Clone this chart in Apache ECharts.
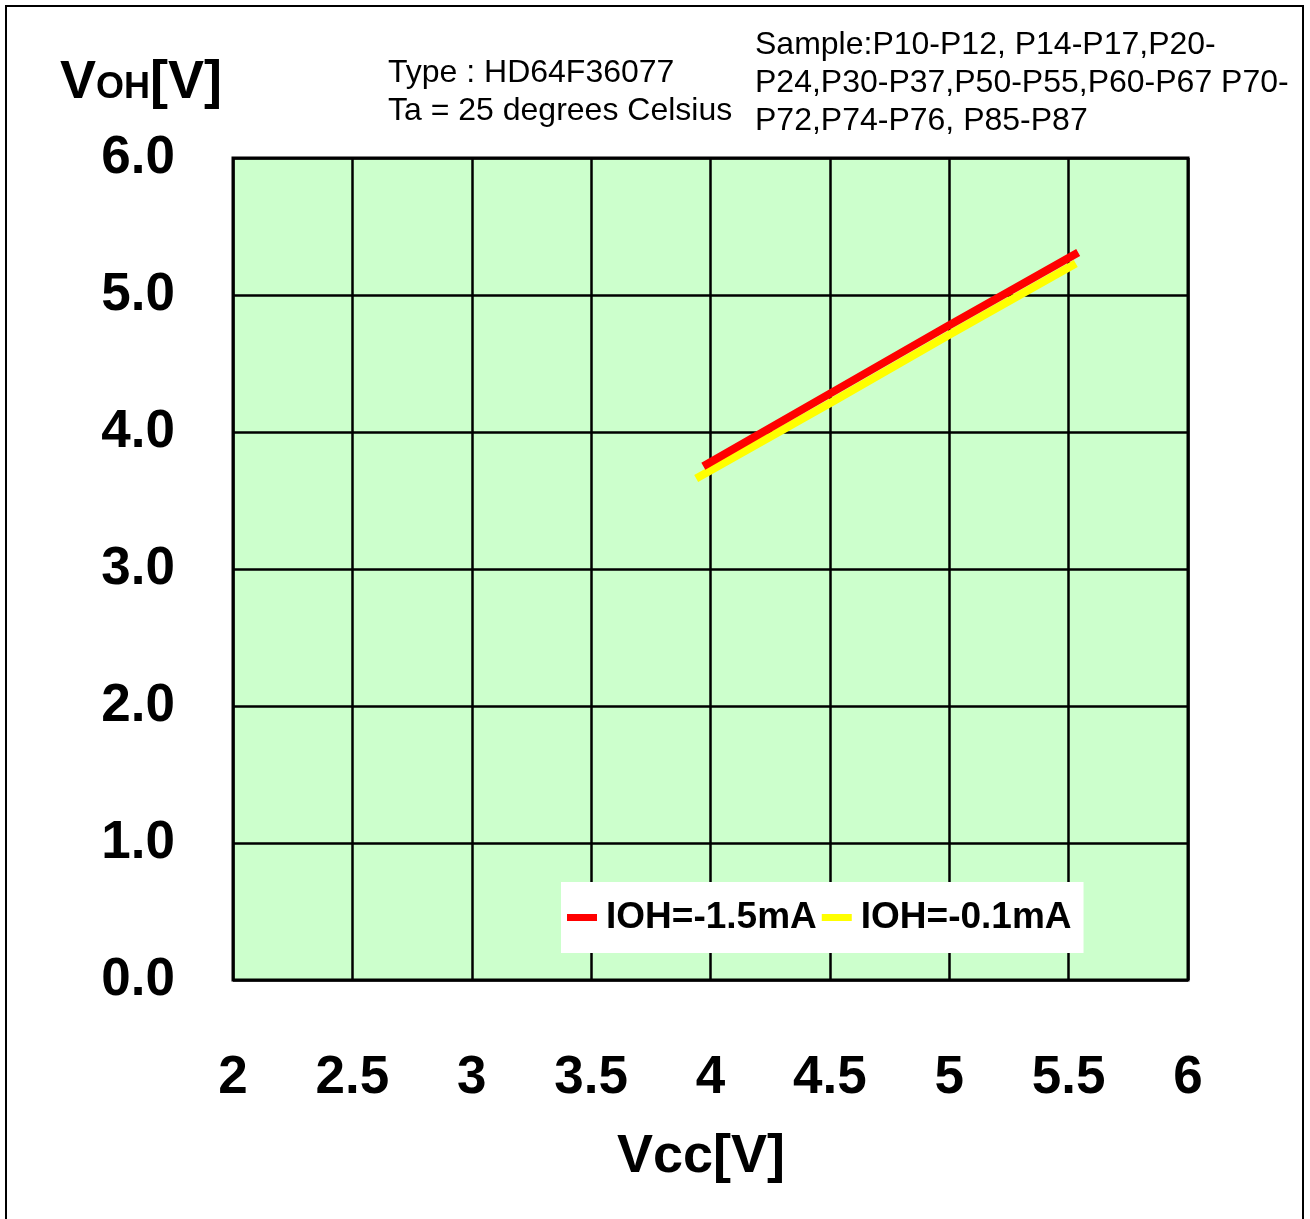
<!DOCTYPE html>
<html>
<head>
<meta charset="utf-8">
<script src="https://cdn.jsdelivr.net/npm/echarts@6/dist/echarts.min.js"></script>
<style>
html,body{margin:0;padding:0;background:#fff;}
#chart{width:1310px;height:1219px;}
</style>
</head>
<body>
<div id="chart"></div>
<script>
// ---- data ----
const seriesNames = ['IOH=-1.5mA', 'IOH=-0.1mA'];
const vccRed = [3.97, 4.5, 5.0, 5.54];
const vohRed = [3.75, 4.28, 4.78, 5.31];
const vccYellow = [3.94, 4.5, 5.0, 5.53];
const vohYellow = [3.66, 4.21, 4.71, 5.23];
const xTicks = [2, 2.5, 3, 3.5, 4, 4.5, 5, 5.5, 6];
const yTicks = [0, 1, 2, 3, 4, 5, 6];
const typeText = ['Type : HD64F36077', 'Ta = 25 degrees Celsius'];
const sampleText = ['Sample:P10-P12, P14-P17,P20-', 'P24,P30-P37,P50-P55,P60-P67 P70-', 'P72,P74-P76, P85-P87'];

const BOLD = "'Liberation Sans',Arial,sans-serif";
const REG = "'Liberation Sans',Arial,sans-serif";

const chart = echarts.init(document.getElementById('chart'), null, {renderer: 'canvas'});
chart.setOption({
  animation: false,
  backgroundColor: '#ffffff',
  grid: {
    left: 233, top: 158, width: 955, height: 822,
    show: true, backgroundColor: '#CCFFCC', borderColor: '#000', borderWidth: 3
  },
  xAxis: {
    type: 'value', min: xTicks[0], max: xTicks[xTicks.length - 1], interval: 0.5,
    axisLine: {show: false}, axisTick: {show: false},
    splitLine: {show: true, lineStyle: {color: '#000', width: 2.5}},
    axisLabel: {margin: 72, color: '#000', fontFamily: BOLD, fontWeight: 'bold', fontSize: 53,
      formatter: v => String(v)}
  },
  yAxis: {
    type: 'value', min: yTicks[0], max: yTicks[yTicks.length - 1], interval: 1,
    axisLine: {show: false}, axisTick: {show: false},
    splitLine: {show: true, lineStyle: {color: '#000', width: 2.5}},
    axisLabel: {margin: 58, color: '#000', fontFamily: BOLD, fontWeight: 'bold', fontSize: 53,
      formatter: v => v.toFixed(1)}
  },
  legend: {
    left: 561, top: 882, orient: 'horizontal',
    backgroundColor: '#fff', padding: [17, 12, 17, 6],
    itemWidth: 30, itemHeight: 7, itemGap: 5,
    icon: 'rect',
    textStyle: {color: '#000', fontFamily: BOLD, fontWeight: 'bold', fontSize: 37, padding: [0, 0, 0, 4]},
    data: seriesNames
  },
  series: [
    {name: seriesNames[1], type: 'line', symbol: 'none', z: 2,
      lineStyle: {color: '#FFFF00', width: 8}, itemStyle: {color: '#FFFF00'},
      data: vccYellow.map((x, i) => [x, vohYellow[i]])},
    {name: seriesNames[0], type: 'line', symbol: 'none', z: 3,
      lineStyle: {color: '#FF0000', width: 8}, itemStyle: {color: '#FF0000'},
      data: vccRed.map((x, i) => [x, vohRed[i]])}
  ],
  graphic: [
    {type: 'rect', shape: {x: 6, y: 6, width: 1297, height: 1250}, z: 100,
      style: {fill: 'none', stroke: '#000', lineWidth: 2}},
    {type: 'text', x: 60, y: 83, z: 100, style: {
      text: '{a|V}{b|OH}{a|[V]}', textVerticalAlign: 'middle',
      rich: {
        a: {fontFamily: BOLD, fontWeight: 'bold', fontSize: 54, fill: '#000'},
        b: {fontFamily: BOLD, fontWeight: 'bold', fontSize: 36, fill: '#000', verticalAlign: 'bottom', padding: [0,0,4,0]}
      }}},
    {type: 'text', x: 388, y: 54, z: 100, style: {
      text: typeText.join('\n'), font: '32px ' + REG, lineHeight: 38, fill: '#000', textVerticalAlign: 'top'}},
    {type: 'text', x: 755, y: 26, z: 100, style: {
      text: sampleText.join('\n'), font: '32px ' + REG, lineHeight: 38, fill: '#000', textVerticalAlign: 'top'}},
    {type: 'text', x: 701, y: 1157, z: 100, style: {
      text: 'Vcc[V]', font: 'bold 54px ' + BOLD, fill: '#000', textAlign: 'center', textVerticalAlign: 'middle'}}
  ]
});
</script>
</body>
</html>
